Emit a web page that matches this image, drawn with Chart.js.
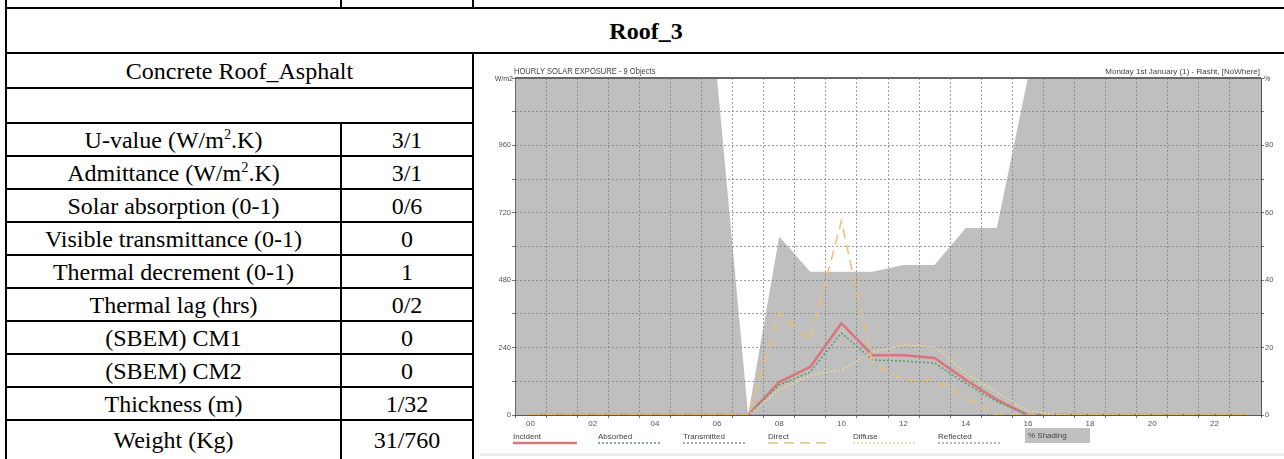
<!DOCTYPE html>
<html>
<head>
<meta charset="utf-8">
<script src="https://cdn.jsdelivr.net/npm/chart.js@4.4.1/dist/chart.umd.min.js"></script>
<style>
  html, body { margin: 0; padding: 0; background: #fff; width: 1284px; height: 459px; overflow: hidden; }
  table.props {
    position: absolute; left: 5px; top: -31px; width: 1282px;
    border-collapse: collapse; table-layout: fixed;
    font-family: "Liberation Serif", "Times New Roman", serif; font-size: 24px; color: #000;
  }
  table.props td { border: 2px solid #000; padding: 0; text-align: center; vertical-align: middle; line-height: 1; }
  table.props td.title { font-weight: bold; }
  table.props sup { font-size: 0.6em; line-height: 0; vertical-align: 0.6em; }
  #chartBox { position: absolute; left: 478px; top: 57px; width: 806px; height: 400px; }
  #band { position: absolute; left: 480px; top: 453px; width: 804px; height: 3px; background: #ececec; }
</style>
</head>
<body>
<table class="props">
  <colgroup><col style="width:335px"><col style="width:132px"><col></colgroup>
  <tr style="height:38px"><td></td><td></td><td></td></tr>
  <tr style="height:45px"><td class="title" colspan="3">Roof_3</td></tr>
  <tr style="height:35px"><td colspan="2">Concrete Roof_Asphalt</td><td rowspan="12"></td></tr>
  <tr style="height:35px"><td colspan="2"></td></tr>
  <tr style="height:33px"><td>U-value (W/m<sup>2</sup>.K)</td><td>3/1</td></tr>
  <tr style="height:33px"><td>Admittance (W/m<sup>2</sup>.K)</td><td>3/1</td></tr>
  <tr style="height:33px"><td>Solar absorption (0-1)</td><td>0/6</td></tr>
  <tr style="height:33px"><td>Visible transmittance (0-1)</td><td>0</td></tr>
  <tr style="height:33px"><td>Thermal decrement (0-1)</td><td>1</td></tr>
  <tr style="height:33px"><td>Thermal lag (hrs)</td><td>0/2</td></tr>
  <tr style="height:33px"><td>(SBEM) CM1</td><td>0</td></tr>
  <tr style="height:33px"><td>(SBEM) CM2</td><td>0</td></tr>
  <tr style="height:33px"><td>Thickness (m)</td><td>1/32</td></tr>
  <tr style="height:40px"><td>Weight (Kg)</td><td>31/760</td></tr>
</table>
<div id="band"></div>
<div id="chartBox"><canvas id="solar" width="806" height="400"></canvas></div>
<script>
// horas del día
const hours = [0,1,2,3,4,5,6,7,8,9,10,11,12,13,14,15,16,17,18,19,20,21,22,23];
// W/m2
const incident    = [0,0,0,0,0,0,0,0,117,171,327,213,213,203,125,55,0,0,0,0,0,0,0,0];
const absorbed    = [0,0,0,0,0,0,0,0,107,153,292,196,192,185,112,48,0,0,0,0,0,0,0,0];
const transmitted = [0,0,0,0,0,0,0,0,0,0,0,0,0,0,0,0,0,0,0,0,0,0,0,0];
const direct      = [0,0,0,0,0,0,0,0,363,267,690,185,125,125,60,0,0,0,0,0,0,0,0,0];
const diffuse     = [0,0,0,0,0,0,0,0,89,142,160,225,249,242,150,80,15,0,0,0,0,0,0,0];
const reflected   = [0,0,0,0,0,0,0,0,0,0,0,0,0,0,0,0,0,0,0,0,0,0,0,0];
// % sombreado
const shading     = [100,100,100,100,100,100,100,0,53,42.5,42.5,42.5,44.5,44.5,55.5,55.5,100,100,100,100,100,100,100,100];

const xMin = -0.5, xMax = 23.5;
// el área gris llega hasta los bordes del eje
const shadingPoints = [{ x: xMin, y: shading[0] }]
  .concat(hours.map((h, i) => ({ x: h, y: shading[i] })))
  .concat([{ x: xMax, y: shading[shading.length - 1] }]);

const gridColor = 'rgba(110,110,110,0.65)';
const sans = '"Liberation Sans", Arial, sans-serif';

function lineDs(label, data, color, dash, width, order) {
  return {
    label: label, data: data, borderColor: color, backgroundColor: color,
    borderDash: dash, borderWidth: width, pointRadius: 0, fill: false,
    tension: 0, yAxisID: 'y', order: order,
  };
}

// Leyenda y textos al estilo del programa original
const decorPlugin = {
  id: 'decor',
  afterDatasetsDraw(chart) {
    const { ctx, chartArea: a } = chart;
    ctx.save();
    ctx.strokeStyle = '#666';
    ctx.lineWidth = 2;
    ctx.beginPath();
    ctx.moveTo(a.left, a.top);
    ctx.lineTo(a.right, a.top);
    ctx.stroke();
    ctx.restore();
  },
  afterDraw(chart) {
    const { ctx, chartArea: a } = chart;
    ctx.save();
    ctx.fillStyle = '#444';
    ctx.textBaseline = 'middle';
    // título estrecho
    ctx.save();
    ctx.font = '9px ' + sans;
    ctx.textAlign = 'left';
    ctx.translate(a.left - 1, a.top - 6);
    ctx.scale(0.84, 1);
    ctx.fillText('HOURLY SOLAR EXPOSURE - 9 Objects', 0, 0);
    ctx.restore();
    ctx.textAlign = 'right';
    ctx.font = '8px ' + sans;
    ctx.fillText('Monday 1st January (1) - Rasht, [NoWhere]', a.right - 1, a.top - 6);
    ctx.font = '7px ' + sans;
    ctx.fillText('W/m2', a.left - 2, a.top + 1);
    ctx.textAlign = 'left';
    ctx.fillText('%', a.right + 3, a.top + 1);

    // leyenda
    ctx.font = '8px ' + sans;
    let x = a.left - 2;
    const yText = a.bottom + 22;
    chart.data.datasets.forEach((ds) => {
      if (ds.yAxisID === 'y2') {
        ctx.fillStyle = '#c0c0c0';
        ctx.fillRect(x + 2, yText - 9, 65, 15);
        ctx.fillStyle = '#444';
        ctx.fillText(ds.label, x + 5, yText - 1);
      } else {
        ctx.fillStyle = '#444';
        ctx.fillText(ds.label, x, yText);
        ctx.strokeStyle = ds.borderColor;
        ctx.lineWidth = ds.borderWidth;
        ctx.setLineDash(ds.borderDash || []);
        ctx.beginPath();
        ctx.moveTo(x, yText + 6);
        ctx.lineTo(x + 64, yText + 6);
        ctx.stroke();
        ctx.setLineDash([]);
      }
      x += 85;
    });
    ctx.restore();
  },
};

const ctx = document.getElementById('solar').getContext('2d');
const solarChart = new Chart(ctx, {
  type: 'line',
  data: {
    labels: hours,
    datasets: [
      lineDs('Incident', incident, '#d9767a', [], 2.5, 6),
      lineDs('Absorbed', absorbed, '#5c9c68', [2, 2], 1.5, 4),
      lineDs('Transmitted', transmitted, '#7f8cb0', [2, 2], 1.5, 3),
      lineDs('Direct', direct, '#f0bf72', [10, 6], 1.5, 0),
      lineDs('Diffuse', diffuse, '#eed88a', [2, 2], 1.5, 1),
      lineDs('Reflected', reflected, '#8a8aa0', [2, 2], 1.2, 2),
      {
        label: '% Shading', data: shadingPoints, yAxisID: 'y2',
        borderWidth: 0, borderColor: 'rgba(0,0,0,0)', backgroundColor: 'rgba(128,128,128,0.5)',
        fill: 'origin', pointRadius: 0, tension: 0, order: 10,
      },
    ],
  },
  options: {
    responsive: false,
    animation: false,
    layout: { padding: { top: 21, bottom: 28, left: 0, right: 0 } },
    plugins: { legend: { display: false }, tooltip: { enabled: false } },
    scales: {
      x: {
        type: 'linear', min: xMin, max: xMax,
        afterFit(scale) { scale.height = 14; },
        ticks: {
          stepSize: 0.5, autoSkip: false, maxRotation: 0, padding: 1,
          color: '#555', font: { size: 8, family: sans },
          callback: (v) => (Number.isInteger(v) && v % 2 === 0) ? String(v).padStart(2, '0') : '',
        },
        grid: {
          color: (c) => (c.tick && c.tick.value % 1 !== 0) ? gridColor : 'rgba(0,0,0,0)',
          tickColor: (c) => (c.tick && c.tick.value % 1 !== 0) ? '#777' : 'rgba(0,0,0,0)',
          tickLength: 3,
        },
        border: { display: true, color: '#555', width: 1, dash: [2, 2] },
      },
      y: {
        position: 'left', min: 0, max: 1200,
        afterFit(scale) { scale.width = 37; },
        ticks: {
          stepSize: 120, padding: 1, color: '#555', font: { size: 7.5, family: sans },
          callback: (v) => (v % 240 === 0 && v < 1200) ? v : '',
        },
        grid: { color: gridColor, tickColor: '#777', tickLength: 3 },
        border: { display: true, color: '#555', width: 1, dash: [2, 2] },
      },
      y2: {
        position: 'right', min: 0, max: 100,
        afterFit(scale) { scale.width = 23; },
        ticks: {
          stepSize: 10, padding: 1, color: '#555', font: { size: 7.5, family: sans },
          callback: (v) => (v % 20 === 0 && v < 100) ? v : '',
        },
        grid: { drawOnChartArea: false, tickColor: '#777', tickLength: 3 },
        border: { display: true, color: '#555', width: 1 },
      },
    },
  },
  plugins: [decorPlugin],
});
</script>
</body>
</html>
